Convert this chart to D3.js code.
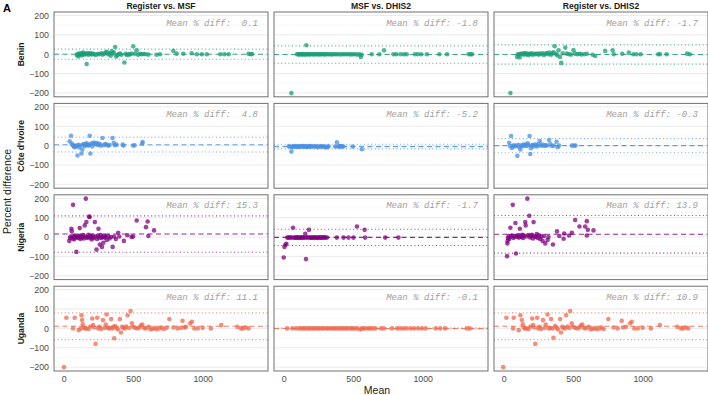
<!DOCTYPE html>
<html><head><meta charset="utf-8">
<script src="https://cdn.jsdelivr.net/npm/d3@7"></script>
<style>
body{margin:0;background:#fff}
svg{display:block}
text{font-family:"Liberation Sans",Arial,sans-serif}
text.mono{font-family:"Liberation Mono","Courier New",monospace;font-style:italic;white-space:pre}
</style></head>
<body><svg id="chart" width="708" height="395"></svg>
<script>
// ---------- data ----------
const comparisons = ["Register vs. MSF", "MSF vs. DHIS2", "Register vs. DHIS2"];
const countries = ["Benin", "Côte d'Ivoire", "Nigeria", "Uganda"];
const countryColors = ["#1b9e77", "#4a90e2", "#800080", "#ee6a50"];
const xTicks = [0, 500, 1000];
const yTicks = [-200, -100, 0, 100, 200];
// mean % diff per [country][comparison]
const meanDiff = [[0.1, -1.8, -1.7], [4.8, -5.2, -0.3], [15.3, -1.7, 13.9], [11.1, -0.1, 10.9]];
const loaUpper = [[26, 43, 48], [43, 7, 36], [109, 40, 111], [80, 3, 80]];
const loaLower = [[-26, -47, -51], [-33, -17, -37], [-79, -44, -83], [-58, -3, -58]];

// points: [mean, percent difference]
const benin_RM = [[95,-5],[100,2],[105,-12],[110,-3],[118,5],[125,0],[130,-6],[135,3],[140,8],[145,-2],[152,4],[160,0],[165,-51],[170,6],[178,-3],[185,2],[192,5],[200,-1],[210,3],[220,0],[232,-4],[245,2],[258,0],[270,5],[280,-2],[292,3],[300,8],[310,12],[320,0],[330,5],[338,-8],[345,15],[352,3],[360,10],[370,37],[378,-12],[385,-5],[395,0],[405,4],[415,-3],[437,-43],[445,2],[455,-4],[465,0],[475,-2],[488,3],[500,41],[512,2],[525,20],[535,-3],[548,2],[560,0],[575,1],[590,0],[610,-2],[668,-3],[693,0],[789,17],[813,3],[861,2],[921,5],[958,0],[994,0],[1030,0],[1127,0],[1156,0],[1187,0],[1330,2],[1345,0],[1355,1]];
const benin_MD = [[55,-201],[96,0],[105,0],[112,-1],[120,0],[128,0],[135,-1],[142,0],[150,0],[158,-2],[163,46],[170,0],[178,0],[185,-1],[195,0],[205,0],[215,-1],[225,0],[235,0],[245,0],[255,-1],[265,0],[275,0],[285,0],[295,-1],[305,0],[318,0],[330,0],[342,-1],[355,0],[368,0],[380,0],[395,0],[410,-1],[425,0],[440,0],[455,0],[470,0],[485,-1],[500,0],[515,0],[530,-2],[545,0],[555,-14],[560,-3],[633,0],[688,0],[722,20],[790,0],[810,0],[840,0],[865,0],[885,0],[945,0],[965,0],[990,0],[1030,0],[1120,0],[1175,0],[1330,0],[1345,0],[1355,0]];
const benin_RD = [[48,-201],[96,-14],[102,0],[108,-3],[115,-17],[120,2],[128,0],[136,4],[145,-2],[152,6],[160,0],[168,3],[176,-5],[184,2],[192,0],[200,5],[210,-3],[220,2],[230,0],[240,4],[250,-2],[260,3],[270,0],[280,5],[290,-4],[300,2],[310,6],[320,0],[330,8],[340,-3],[350,4],[358,10],[366,41],[375,2],[385,-6],[395,20],[405,-14],[414,-45],[425,5],[443,34],[455,3],[470,0],[485,-2],[502,21],[514,3],[530,0],[545,2],[560,-1],[580,0],[598,2],[640,-3],[658,-9],[730,17],[784,20],[792,0],[853,2],[900,8],[933,0],[955,0],[985,0],[1112,0],[1125,0],[1172,0],[1320,3],[1339,0]];
const civ_RM = [[43,22],[52,51],[58,10],[65,3],[72,-5],[79,-8],[86,0],[92,-3],[99,-51],[105,4],[112,-10],[118,2],[128,-41],[134,-20],[140,5],[146,8],[152,-2],[158,3],[164,12],[170,6],[176,0],[182,4],[187,51],[192,-41],[198,10],[205,-5],[212,14],[220,8],[228,15],[236,5],[244,12],[252,3],[260,8],[268,0],[279,39],[288,2],[298,8],[308,5],[320,0],[330,3],[351,39],[360,14],[368,2],[380,5],[424,5],[430,0],[500,0],[510,2],[568,19],[565,10]];
const civ_MD = [[36,-3],[45,-5],[55,-31],[60,-8],[68,-4],[75,-6],[82,-2],[90,-5],[98,-7],[105,-4],[112,-3],[120,-6],[128,-5],[135,-2],[142,-4],[150,-6],[158,-3],[165,-5],[172,-7],[180,-4],[188,-2],[196,-6],[205,-5],[215,-3],[225,-5],[235,-4],[245,-8],[255,-5],[265,-3],[275,-6],[285,-4],[295,-5],[305,-10],[315,-6],[323,-4],[370,-5],[383,17],[390,-3],[398,-6],[405,-2],[412,-5],[419,-4],[430,-5],[497,-5],[562,-19]];
const civ_RD = [[39,15],[46,-2],[53,50],[58,-12],[65,-3],[72,2],[80,-5],[88,0],[98,-53],[105,4],[112,-8],[120,-20],[128,2],[135,-3],[142,5],[150,0],[158,6],[165,-2],[172,12],[178,3],[186,50],[191,-43],[196,-14],[202,0],[210,4],[218,-4],[226,6],[234,2],[242,-5],[250,8],[259,24],[268,0],[278,5],[290,-2],[300,3],[310,0],[326,29],[335,8],[345,-2],[360,0],[380,20],[388,-8],[398,0],[490,0],[505,0],[516,0]];
const nga_RM = [[40,-20],[45,-5],[50,3],[55,43],[58,30],[62,-8],[67,166],[70,2],[75,-12],[80,5],[85,-3],[91,-77],[96,0],[100,8],[105,-5],[110,2],[115,46],[120,-10],[125,5],[130,-2],[135,0],[140,10],[145,-8],[151,60],[155,3],[159,198],[163,77],[168,-5],[172,0],[177,12],[183,106],[186,103],[190,-3],[195,5],[200,-12],[205,0],[210,8],[215,-6],[224,77],[230,3],[236,-65],[240,-10],[245,5],[250,43],[255,-2],[260,-39],[265,10],[270,-5],[275,-51],[280,0],[285,-30],[290,8],[295,-3],[300,2],[310,-15],[320,5],[330,-8],[340,0],[352,-51],[362,3],[375,-10],[392,22],[400,3],[433,-20],[458,9],[488,0],[500,2],[525,85],[592,51],[604,80],[609,5],[650,34]];
const nga_MD = [[0,-106],[5,-51],[12,-40],[19,-35],[25,-3],[35,-3],[45,-2],[55,-3],[67,48],[72,-3],[80,-4],[88,-3],[95,-2],[102,-3],[110,-3],[118,-4],[125,-3],[132,-2],[140,-3],[148,-3],[155,17],[160,-114],[165,-3],[172,-2],[181,37],[188,-3],[195,-3],[202,-4],[210,-3],[218,-2],[226,-3],[234,-3],[242,-4],[250,-3],[258,-2],[266,-3],[274,-3],[282,-3],[290,-2],[300,-3],[311,-3],[382,-3],[430,-3],[466,-3],[502,-3],[527,54],[582,37],[586,-3],[730,-3],[825,-3]];
const nga_RD = [[24,-99],[26,-33],[28,-20],[30,-5],[35,5],[40,-10],[48,48],[52,2],[58,8],[65,166],[70,-5],[76,3],[84,72],[88,-85],[92,5],[98,0],[104,10],[110,-3],[116,43],[122,6],[128,0],[134,12],[140,-5],[146,8],[155,77],[158,60],[164,3],[170,198],[176,10],[184,110],[190,-2],[196,5],[203,12],[210,-8],[215,77],[222,4],[230,0],[238,15],[246,-5],[254,8],[262,-10],[270,3],[280,-20],[290,5],[299,-33],[316,-15],[322,0],[354,-39],[383,29],[400,5],[431,-9],[435,18],[470,8],[490,22],[514,88],[545,54],[586,54],[598,82],[598,8],[605,37],[646,34]];
const uga_RM = [[2,-200],[19,55],[67,0],[79,55],[108,-9],[122,0],[128,68],[132,43],[137,21],[145,5],[152,0],[164,0],[178,-3],[195,10],[205,51],[212,17],[220,5],[229,-80],[241,55],[248,0],[258,8],[270,-3],[283,43],[295,3],[302,20],[308,72],[315,5],[325,0],[335,2],[341,48],[350,0],[356,8],[363,-51],[370,12],[380,3],[390,-5],[404,48],[412,-21],[420,8],[430,3],[440,0],[450,10],[460,68],[470,2],[481,90],[490,26],[500,8],[515,3],[530,0],[545,5],[555,15],[565,20],[578,3],[590,0],[610,8],[625,-5],[640,-3],[655,2],[670,-5],[690,0],[705,5],[720,-3],[741,3],[760,48],[790,5],[820,0],[845,3],[855,39],[870,5],[880,8],[910,26],[923,34],[940,0],[965,0],[1000,3],[1059,0],[1134,17],[1250,8],[1275,0],[1290,0],[1310,5],[1330,0]];
const uga_MD = [[25,0],[62,0],[88,0],[110,0],[124,0],[141,0],[153,0],[170,0],[184,0],[199,0],[216,0],[228,0],[246,0],[259,0],[276,0],[288,0],[306,0],[318,0],[336,0],[349,0],[366,0],[378,0],[396,0],[411,0],[424,0],[441,0],[453,0],[471,0],[486,0],[499,0],[516,0],[531,0],[551,-6],[562,0],[574,0],[591,0],[611,0],[624,0],[642,0],[661,0],[702,0],[721,0],[779,0],[816,0],[838,0],[862,0],[884,0],[912,0],[938,0],[966,0],[994,0],[1021,0],[1094,0],[1126,0],[1161,0],[1318,0],[1339,0]];
const uga_RD = [[-4,-200],[19,55],[72,55],[67,0],[108,-9],[120,68],[131,43],[137,21],[145,5],[152,0],[164,0],[178,-3],[195,10],[205,51],[212,17],[220,5],[227,-80],[241,55],[248,0],[258,8],[270,-3],[283,43],[295,3],[302,20],[315,72],[325,0],[335,2],[341,48],[350,0],[358,-48],[370,12],[380,3],[390,-5],[406,48],[412,-21],[420,8],[430,3],[440,0],[449,68],[460,10],[470,2],[478,90],[490,26],[500,8],[515,3],[530,0],[545,5],[555,15],[565,20],[578,3],[590,0],[610,8],[625,-5],[640,-3],[655,2],[670,-5],[690,0],[705,5],[720,-3],[753,48],[790,5],[820,0],[849,39],[860,5],[880,8],[910,26],[921,34],[940,0],[965,0],[1000,3],[1059,0],[1124,17],[1250,8],[1275,0],[1290,0],[1310,5],[1327,0]];

const panelData = [[benin_RM, benin_MD, benin_RD], [civ_RM, civ_MD, civ_RD], [nga_RM, nga_MD, nga_RD], [uga_RM, uga_MD, uga_RD]];

// ---------- layout ----------
const svg = d3.select("#chart");
const colLeft = [54, 274, 494], panelW = 214;
const rowTop = [12, 103.4, 194.8, 286.2], panelH = 84.8;
const xDomain = [-70, 1470], yDomain = [-220, 218];

svg.append("text").attr("x", 3).attr("y", 12).attr("font-size", 11).attr("font-weight", "bold").attr("fill", "#000").text("A");

comparisons.forEach((c, j) => {
  svg.append("text").attr("x", colLeft[j] + panelW / 2).attr("y", 8.5)
    .attr("text-anchor", "middle").attr("font-size", 8.6).attr("font-weight", "bold").attr("fill", "#1a1a1a").text(c);
});

countries.forEach((country, i) => {
  const y = d3.scaleLinear().domain(yDomain).range([rowTop[i] + panelH, rowTop[i]]);
  svg.append("text").attr("transform", `translate(24,${rowTop[i] + panelH / 2}) rotate(-90)`)
    .attr("text-anchor", "middle").attr("font-size", 8.6).attr("font-weight", "bold").attr("fill", "#1a1a1a").text(country);
  const yAxis = svg.append("g").attr("transform", `translate(${colLeft[0]},0)`)
    .call(d3.axisLeft(y).tickValues(yTicks).tickSize(0).tickPadding(5));
  yAxis.select(".domain").remove();
  yAxis.selectAll("text").attr("font-size", 8.8).attr("fill", "#4d4d4d");

  comparisons.forEach((comp, j) => {
    const x = d3.scaleLinear().domain(xDomain).range([colLeft[j], colLeft[j] + panelW]);
    const g = svg.append("g");
    const col = countryColors[i];
    const minor = [-150, -50, 50, 150];
    g.selectAll(".mn").data(minor).enter().append("line")
      .attr("x1", colLeft[j]).attr("x2", colLeft[j] + panelW).attr("y1", d => y(d)).attr("y2", d => y(d))
      .attr("stroke", "#f3f3f3").attr("stroke-width", 0.6);
    g.selectAll(".mj").data(yTicks).enter().append("line")
      .attr("x1", colLeft[j]).attr("x2", colLeft[j] + panelW).attr("y1", d => y(d)).attr("y2", d => y(d))
      .attr("stroke", "#e6e6e6").attr("stroke-width", 0.8);
    [loaUpper[i][j], loaLower[i][j]].forEach(v => {
      g.append("line").attr("x1", colLeft[j]).attr("x2", colLeft[j] + panelW).attr("y1", y(v)).attr("y2", y(v))
        .attr("stroke", col).attr("stroke-width", 1.1).attr("stroke-dasharray", "1,2.6").attr("opacity", 0.75);
    });
    g.append("line").attr("x1", colLeft[j]).attr("x2", colLeft[j] + panelW)
      .attr("y1", y(meanDiff[i][j])).attr("y2", y(meanDiff[i][j]))
      .attr("stroke", col).attr("stroke-width", 1.1).attr("stroke-dasharray", "5,3.5").attr("opacity", 0.85);
    g.selectAll("circle").data(panelData[i][j]).enter().append("circle")
      .attr("cx", d => x(d[0])).attr("cy", d => y(d[1])).attr("r", 2.3)
      .attr("fill", col).attr("fill-opacity", 0.75);
    const mv = meanDiff[i][j].toFixed(1).padStart(4, " ");
    g.append("text").attr("class", "mono").attr("x", colLeft[j] + panelW - 10).attr("y", rowTop[i] + 13.5)
      .attr("text-anchor", "end").attr("font-size", 9).attr("fill", "#a0a0a0")
      .attr("xml:space", "preserve").text("Mean % diff: " + mv);
    g.append("rect").attr("x", colLeft[j]).attr("y", rowTop[i]).attr("width", panelW).attr("height", panelH)
      .attr("fill", "none").attr("stroke", "#707070").attr("stroke-width", 1);

    if (i === countries.length - 1) {
      const xa = svg.append("g").attr("transform", `translate(0,${rowTop[i] + panelH})`)
        .call(d3.axisBottom(x).tickValues(xTicks).tickSize(0).tickPadding(5).tickFormat(d3.format("d")));
      xa.select(".domain").remove();
      xa.selectAll("text").attr("font-size", 8.8).attr("fill", "#4d4d4d");
    }
  });
});

svg.append("text").attr("x", (colLeft[0] + colLeft[2] + panelW) / 2 - 4).attr("y", 394)
  .attr("text-anchor", "middle").attr("font-size", 10.5).attr("fill", "#222").text("Mean");
svg.append("text").attr("transform", `translate(11,${(rowTop[0] + rowTop[3] + panelH) / 2}) rotate(-90)`)
  .attr("text-anchor", "middle").attr("font-size", 10.5).attr("fill", "#222").text("Percent difference");
</script></body></html>
